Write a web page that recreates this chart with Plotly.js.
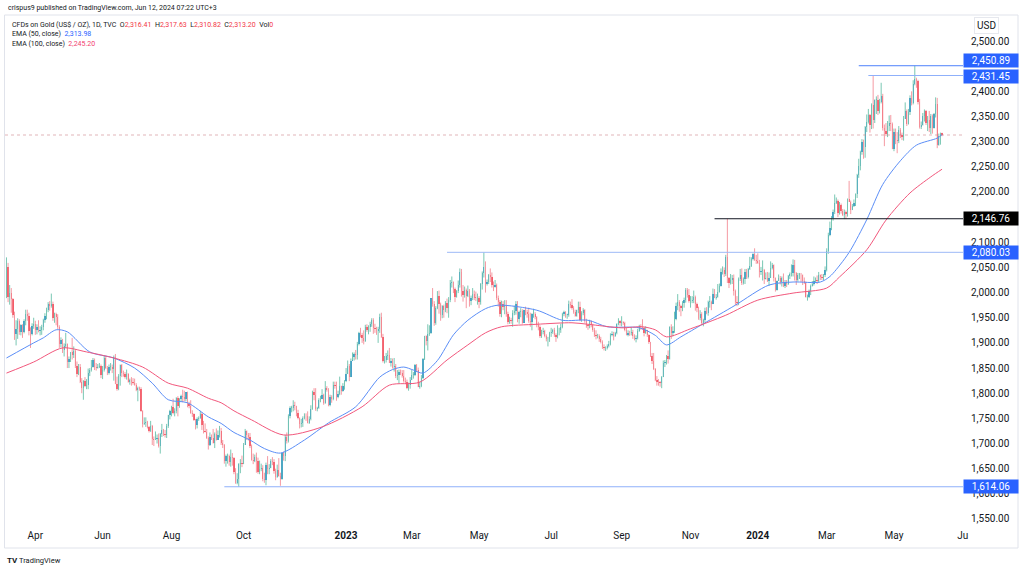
<!DOCTYPE html>
<html><head><meta charset="utf-8">
<script src="https://cdn.plot.ly/plotly-3.0.1.min.js"></script>
<style>html,body{margin:0;padding:0;background:#fff;}#chart{width:1024px;height:570px;}</style>
</head><body><div id="chart"></div>
<script>
// ---------------- DATA (daily candles) ----------------
const dates = [
'2022-03-08','2022-03-09','2022-03-10','2022-03-11','2022-03-14','2022-03-15','2022-03-16','2022-03-17','2022-03-18','2022-03-21','2022-03-22','2022-03-23','2022-03-24','2022-03-25','2022-03-28','2022-03-29','2022-03-30','2022-03-31',
'2022-04-01','2022-04-04','2022-04-05','2022-04-06','2022-04-07','2022-04-08','2022-04-11','2022-04-12','2022-04-13','2022-04-14','2022-04-18','2022-04-19','2022-04-20','2022-04-21','2022-04-22','2022-04-25','2022-04-26','2022-04-27','2022-04-28','2022-04-29',
'2022-05-02','2022-05-03','2022-05-04','2022-05-05','2022-05-06','2022-05-09','2022-05-10','2022-05-11','2022-05-12','2022-05-13','2022-05-16','2022-05-17','2022-05-18','2022-05-19','2022-05-20','2022-05-23','2022-05-24','2022-05-25','2022-05-26','2022-05-27','2022-05-30','2022-05-31',
'2022-06-01','2022-06-02','2022-06-03','2022-06-06','2022-06-07','2022-06-08','2022-06-09','2022-06-10','2022-06-13','2022-06-14','2022-06-15','2022-06-16','2022-06-17','2022-06-20','2022-06-21','2022-06-22','2022-06-23','2022-06-24','2022-06-27','2022-06-28','2022-06-29','2022-06-30',
'2022-07-01','2022-07-04','2022-07-05','2022-07-06','2022-07-07','2022-07-08','2022-07-11','2022-07-12','2022-07-13','2022-07-14','2022-07-15','2022-07-18','2022-07-19','2022-07-20','2022-07-21','2022-07-22','2022-07-25','2022-07-26','2022-07-27','2022-07-28','2022-07-29',
'2022-08-01','2022-08-02','2022-08-03','2022-08-04','2022-08-05','2022-08-08','2022-08-09','2022-08-10','2022-08-11','2022-08-12','2022-08-15','2022-08-16','2022-08-17','2022-08-18','2022-08-19','2022-08-22','2022-08-23','2022-08-24','2022-08-25','2022-08-26','2022-08-29','2022-08-30','2022-08-31',
'2022-09-01','2022-09-02','2022-09-05','2022-09-06','2022-09-07','2022-09-08','2022-09-09','2022-09-12','2022-09-13','2022-09-14','2022-09-15','2022-09-16','2022-09-19','2022-09-20','2022-09-21','2022-09-22','2022-09-23','2022-09-26','2022-09-27','2022-09-28','2022-09-29','2022-09-30',
'2022-10-03','2022-10-04','2022-10-05','2022-10-06','2022-10-07','2022-10-10','2022-10-11','2022-10-12','2022-10-13','2022-10-14','2022-10-17','2022-10-18','2022-10-19','2022-10-20','2022-10-21','2022-10-24','2022-10-25','2022-10-26','2022-10-27','2022-10-28','2022-10-31',
'2022-11-01','2022-11-02','2022-11-03','2022-11-04','2022-11-07','2022-11-08','2022-11-09','2022-11-10','2022-11-11','2022-11-14','2022-11-15','2022-11-16','2022-11-17','2022-11-18','2022-11-21','2022-11-22','2022-11-23','2022-11-24','2022-11-25','2022-11-28','2022-11-29','2022-11-30',
'2022-12-01','2022-12-02','2022-12-05','2022-12-06','2022-12-07','2022-12-08','2022-12-09','2022-12-12','2022-12-13','2022-12-14','2022-12-15','2022-12-16','2022-12-19','2022-12-20','2022-12-21','2022-12-22','2022-12-23','2022-12-27','2022-12-28','2022-12-29','2022-12-30',
'2023-01-03','2023-01-04','2023-01-05','2023-01-06','2023-01-09','2023-01-10','2023-01-11','2023-01-12','2023-01-13','2023-01-16','2023-01-17','2023-01-18','2023-01-19','2023-01-20','2023-01-23','2023-01-24','2023-01-25','2023-01-26','2023-01-27','2023-01-30','2023-01-31',
'2023-02-01','2023-02-02','2023-02-03','2023-02-06','2023-02-07','2023-02-08','2023-02-09','2023-02-10','2023-02-13','2023-02-14','2023-02-15','2023-02-16','2023-02-17','2023-02-20','2023-02-21','2023-02-22','2023-02-23','2023-02-24','2023-02-27','2023-02-28',
'2023-03-01','2023-03-02','2023-03-03','2023-03-06','2023-03-07','2023-03-08','2023-03-09','2023-03-10','2023-03-13','2023-03-14','2023-03-15','2023-03-16','2023-03-17','2023-03-20','2023-03-21','2023-03-22','2023-03-23','2023-03-24','2023-03-27','2023-03-28','2023-03-29','2023-03-30','2023-03-31',
'2023-04-03','2023-04-04','2023-04-05','2023-04-06','2023-04-10','2023-04-11','2023-04-12','2023-04-13','2023-04-14','2023-04-17','2023-04-18','2023-04-19','2023-04-20','2023-04-21','2023-04-24','2023-04-25','2023-04-26','2023-04-27','2023-04-28',
'2023-05-01','2023-05-02','2023-05-03','2023-05-04','2023-05-05','2023-05-08','2023-05-09','2023-05-10','2023-05-11','2023-05-12','2023-05-15','2023-05-16','2023-05-17','2023-05-18','2023-05-19','2023-05-22','2023-05-23','2023-05-24','2023-05-25','2023-05-26','2023-05-29','2023-05-30','2023-05-31',
'2023-06-01','2023-06-02','2023-06-05','2023-06-06','2023-06-07','2023-06-08','2023-06-09','2023-06-12','2023-06-13','2023-06-14','2023-06-15','2023-06-16','2023-06-19','2023-06-20','2023-06-21','2023-06-22','2023-06-23','2023-06-26','2023-06-27','2023-06-28','2023-06-29','2023-06-30',
'2023-07-03','2023-07-04','2023-07-05','2023-07-06','2023-07-07','2023-07-10','2023-07-11','2023-07-12','2023-07-13','2023-07-14','2023-07-17','2023-07-18','2023-07-19','2023-07-20','2023-07-21','2023-07-24','2023-07-25','2023-07-26','2023-07-27','2023-07-28','2023-07-31',
'2023-08-01','2023-08-02','2023-08-03','2023-08-04','2023-08-07','2023-08-08','2023-08-09','2023-08-10','2023-08-11','2023-08-14','2023-08-15','2023-08-16','2023-08-17','2023-08-18','2023-08-21','2023-08-22','2023-08-23','2023-08-24','2023-08-25','2023-08-28','2023-08-29','2023-08-30','2023-08-31',
'2023-09-01','2023-09-04','2023-09-05','2023-09-06','2023-09-07','2023-09-08','2023-09-11','2023-09-12','2023-09-13','2023-09-14','2023-09-15','2023-09-18','2023-09-19','2023-09-20','2023-09-21','2023-09-22','2023-09-25','2023-09-26','2023-09-27','2023-09-28','2023-09-29',
'2023-10-02','2023-10-03','2023-10-04','2023-10-05','2023-10-06','2023-10-09','2023-10-10','2023-10-11','2023-10-12','2023-10-13','2023-10-16','2023-10-17','2023-10-18','2023-10-19','2023-10-20','2023-10-23','2023-10-24','2023-10-25','2023-10-26','2023-10-27','2023-10-30','2023-10-31',
'2023-11-01','2023-11-02','2023-11-03','2023-11-06','2023-11-07','2023-11-08','2023-11-09','2023-11-10','2023-11-13','2023-11-14','2023-11-15','2023-11-16','2023-11-17','2023-11-20','2023-11-21','2023-11-22','2023-11-23','2023-11-24','2023-11-27','2023-11-28','2023-11-29','2023-11-30',
'2023-12-01','2023-12-04','2023-12-05','2023-12-06','2023-12-07','2023-12-08','2023-12-11','2023-12-12','2023-12-13','2023-12-14','2023-12-15','2023-12-18','2023-12-19','2023-12-20','2023-12-21','2023-12-22','2023-12-26','2023-12-27','2023-12-28','2023-12-29',
'2024-01-02','2024-01-03','2024-01-04','2024-01-05','2024-01-08','2024-01-09','2024-01-10','2024-01-11','2024-01-12','2024-01-15','2024-01-16','2024-01-17','2024-01-18','2024-01-19','2024-01-22','2024-01-23','2024-01-24','2024-01-25','2024-01-26','2024-01-29','2024-01-30','2024-01-31',
'2024-02-01','2024-02-02','2024-02-05','2024-02-06','2024-02-07','2024-02-08','2024-02-09','2024-02-12','2024-02-13','2024-02-14','2024-02-15','2024-02-16','2024-02-19','2024-02-20','2024-02-21','2024-02-22','2024-02-23','2024-02-26','2024-02-27','2024-02-28','2024-02-29',
'2024-03-01','2024-03-04','2024-03-05','2024-03-06','2024-03-07','2024-03-08','2024-03-11','2024-03-12','2024-03-13','2024-03-14','2024-03-15','2024-03-18','2024-03-19','2024-03-20','2024-03-21','2024-03-22','2024-03-25','2024-03-26','2024-03-27','2024-03-28',
'2024-04-01','2024-04-02','2024-04-03','2024-04-04','2024-04-05','2024-04-08','2024-04-09','2024-04-10','2024-04-11','2024-04-12','2024-04-15','2024-04-16','2024-04-17','2024-04-18','2024-04-19','2024-04-22','2024-04-23','2024-04-24','2024-04-25','2024-04-26','2024-04-29','2024-04-30',
'2024-05-01','2024-05-02','2024-05-03','2024-05-06','2024-05-07','2024-05-08','2024-05-09','2024-05-10','2024-05-13','2024-05-14','2024-05-15','2024-05-16','2024-05-17','2024-05-20','2024-05-21','2024-05-22','2024-05-23','2024-05-24','2024-05-27','2024-05-28','2024-05-29','2024-05-30','2024-05-31',
'2024-06-03','2024-06-04','2024-06-05','2024-06-06','2024-06-07','2024-06-10','2024-06-11','2024-06-12'
];
const open = [
1998,2050,1992,2000,1988,1955,1917,1928,1943,1921,1935,1921,1943,1958,1954,1923,1918,1933,
1937,1925,1932,1923,1925,1931,1945,1954,1966,1978,1973,1978,1950,1957,1951,1932,1898,1905,1886,1894,
1897,1862,1868,1881,1876,1883,1854,1838,1853,1822,1811,1824,1815,1816,1841,1846,1853,1866,1853,1851,1853,1855,
1837,1847,1870,1851,1841,1852,1853,1848,1871,1819,1808,1834,1857,1840,1838,1832,1838,1822,1827,1823,1820,1817,
1807,1811,1808,1764,1739,1740,1742,1732,1725,1735,1709,1708,1709,1711,1696,1718,1727,1719,1717,1734,1756,
1765,1772,1760,1765,1791,1775,1788,1794,1792,1789,1802,1779,1775,1761,1758,1747,1736,1748,1751,1758,1737,1725,1723,
1711,1697,1712,1710,1702,1718,1708,1716,1725,1702,1697,1665,1675,1676,1664,1673,1671,1644,1622,1629,1660,1661,
1660,1698,1725,1716,1712,1695,1668,1666,1673,1666,1644,1650,1652,1629,1627,1657,1649,1652,1665,1663,1645,
1633,1647,1635,1630,1681,1676,1712,1706,1755,1771,1771,1777,1774,1761,1751,1738,1740,1750,1755,1754,1741,1749,
1768,1803,1797,1769,1771,1786,1789,1797,1781,1810,1807,1777,1793,1788,1817,1814,1792,1798,1814,1804,1815,
1824,1839,1855,1833,1865,1872,1877,1875,1897,1920,1916,1909,1904,1932,1926,1931,1937,1946,1929,1928,1923,
1928,1951,1912,1865,1867,1874,1875,1861,1865,1853,1855,1835,1836,1842,1841,1835,1825,1822,1811,1817,
1827,1836,1836,1856,1847,1813,1814,1831,1868,1913,1904,1918,1920,1989,1978,1940,1970,1993,1978,1956,1973,1965,1980,
1969,1985,2020,2021,2008,1992,2003,2015,2040,2004,1995,2005,1994,2004,1983,1989,1998,1990,1989,
1990,1982,2017,2039,2050,2017,2021,2035,2030,2015,2011,2016,1990,1982,1958,1978,1971,1975,1957,1941,1946,1943,1959,
1963,1978,1948,1961,1963,1940,1965,1961,1957,1943,1942,1958,1958,1951,1936,1932,1913,1921,1923,1913,1907,1908,
1919,1921,1925,1915,1911,1925,1925,1932,1957,1961,1955,1955,1978,1976,1969,1962,1954,1965,1972,1945,1959,
1965,1944,1934,1933,1943,1936,1925,1915,1913,1913,1908,1901,1892,1889,1889,1894,1897,1915,1917,1914,1920,1937,1943,
1940,1940,1939,1926,1916,1920,1919,1922,1913,1908,1910,1924,1934,1931,1930,1920,1925,1916,1901,1874,1865,
1849,1827,1823,1822,1820,1833,1861,1861,1874,1868,1932,1920,1923,1947,1974,1981,1973,1970,1979,1985,2006,1996,
1983,1983,1986,1992,1978,1969,1950,1958,1940,1946,1963,1959,1981,1981,1978,1998,1990,1992,2002,2014,2041,2044,
2036,2071,2029,2019,2025,2029,2004,1981,1979,2027,2035,2019,2027,2040,2031,2046,2053,2067,2077,2065,
2062,2058,2041,2043,2045,2027,2029,2024,2029,2049,2055,2028,2006,2023,2029,2021,2029,2014,2021,2018,2032,2036,
2039,2054,2039,2025,2035,2035,2034,2024,2020,1992,1992,2004,2013,2018,2024,2025,2024,2035,2031,2029,2034,
2044,2083,2115,2128,2148,2160,2179,2182,2158,2175,2162,2155,2160,2157,2186,2181,2165,2172,2179,2195,
2233,2251,2280,2300,2290,2329,2339,2352,2333,2372,2344,2383,2383,2361,2379,2391,2327,2322,2316,2332,2337,2335,
2286,2320,2303,2301,2323,2314,2309,2346,2360,2336,2358,2386,2376,2415,2425,2421,2379,2329,2334,2350,2361,2338,2343,
2327,2350,2327,2355,2375,2294,2311,2316.41
];
const high = [
2070,2059,2015,2009,1989,1962,1945,1949,1947,1937,1937,1947,1966,1966,1960,1931,1939,1950,
1944,1937,1945,1933,1936,1948,1959,1970,1981,1983,1998,1982,1960,1960,1957,1935,1911,1908,1899,1920,
1899,1873,1882,1910,1893,1887,1863,1858,1858,1830,1826,1832,1828,1849,1850,1866,1870,1869,1860,1858,1860,1857,
1854,1874,1874,1854,1857,1860,1857,1875,1878,1833,1838,1857,1858,1845,1842,1847,1840,1829,1832,1830,1829,1820,
1813,1813,1812,1766,1752,1752,1745,1735,1745,1737,1714,1724,1718,1720,1721,1739,1729,1727,1739,1757,1767,
1775,1789,1770,1792,1794,1790,1797,1807,1805,1802,1803,1783,1786,1766,1760,1749,1752,1754,1765,1762,1745,1740,1729,
1714,1722,1718,1729,1722,1730,1726,1735,1731,1707,1699,1678,1680,1678,1688,1681,1673,1651,1641,1661,1669,1676,
1701,1729,1726,1721,1721,1698,1680,1678,1682,1672,1666,1660,1657,1642,1662,1675,1659,1669,1673,1669,1650,
1658,1671,1642,1682,1684,1717,1722,1758,1774,1775,1786,1783,1775,1767,1752,1749,1754,1760,1760,1764,1754,1776,
1805,1810,1810,1773,1790,1795,1808,1799,1824,1814,1810,1797,1796,1823,1823,1823,1805,1833,1815,1820,1826,
1850,1865,1858,1869,1881,1881,1886,1902,1922,1930,1920,1925,1936,1937,1935,1942,1949,1949,1938,1932,1932,
1958,1960,1918,1874,1880,1885,1890,1870,1869,1870,1858,1846,1847,1847,1846,1846,1831,1827,1821,1832,
1846,1842,1858,1858,1851,1823,1836,1870,1914,1915,1937,1935,1989,2009,1983,1973,2003,2004,1980,1975,1976,1983,1988,
1991,2025,2032,2022,2010,2005,2024,2048,2047,2015,2012,2008,2014,2007,1994,2009,2004,2002,1998,
1993,2019,2042,2080.03,2062,2026,2037,2048,2040,2022,2025,2018,1994,1985,1984,1983,1985,1985,1962,1952,1950,1965,1974,
1983,1983,1964,1969,1967,1966,1972,1966,1970,1960,1959,1968,1961,1953,1942,1935,1926,1930,1926,1917,1912,1922,
1930,1928,1930,1919,1935,1930,1938,1960,1964,1963,1958,1984,1982,1987,1973,1966,1966,1982,1982,1963,1969,
1967,1948,1937,1946,1945,1938,1930,1925,1918,1917,1912,1905,1897,1893,1897,1904,1919,1923,1922,1922,1939,1949,1945,
1953,1943,1942,1930,1925,1924,1930,1926,1917,1915,1928,1936,1937,1947,1932,1933,1926,1917,1902,1880,1880,
1850,1834,1828,1824,1834,1865,1866,1876,1885,1933,1937,1933,1962,1980,1997,1985,1976,1983,1990,2009,2009,2007,
1993,1993,2004,1994,1980,1972,1965,1961,1948,1970,1971,1984,1993,1984,2008,2007,1997,2017,2018,2048,2052,2050,
2075,2146.76,2031,2037,2035,2036,2006,1993,2030,2047,2048,2030,2047,2047,2049,2071,2070,2078,2088,2075,
2078,2065,2051,2064,2047,2040,2041,2040,2062,2059,2056,2030,2024,2036,2033,2032,2038,2025,2025,2035,2040,2056,
2066,2065,2041,2039,2039,2039,2036,2030,2022,1996,2006,2016,2023,2032,2030,2034,2041,2036,2037,2037,2052,
2088,2119,2141,2152,2165,2195,2189,2185,2180,2177,2166,2165,2163,2187,2222,2183,2176,2185,2197,2236,
2266,2282,2305,2304,2331,2354,2365,2355,2376,2431.45,2384,2390,2393,2385,2417,2395,2334,2337,2341,2352,2353,2338,
2326,2326,2319,2331,2327,2318,2351,2378,2364,2365,2392,2400,2422,2450.89,2427,2423,2385,2340,2357,2364,2363,2351,2361,
2355,2354,2357,2388,2387,2316,2318,2317.63
];
const low = [
1989,1981,1976,1960,1950,1906,1895,1908,1916,1915,1910,1919,1935,1944,1915,1890,1915,1928,
1916,1917,1921,1915,1916,1925,1940,1947,1961,1964,1970,1944,1940,1935,1927,1890,1891,1880,1873,1890,
1850,1850,1862,1867,1870,1850,1832,1836,1820,1800,1787,1812,1808,1808,1834,1843,1851,1846,1845,1849,1850,1830,
1828,1843,1848,1836,1837,1845,1840,1825,1818,1805,1806,1815,1832,1833,1829,1827,1821,1817,1815,1817,1815,1804,
1784,1805,1763,1732,1737,1733,1730,1722,1723,1697,1695,1707,1700,1692,1680,1713,1715,1712,1711,1731,1748,
1754,1758,1754,1760,1754,1771,1783,1782,1784,1784,1772,1770,1759,1753,1745,1728,1730,1745,1749,1727,1720,1722,1709,
1688,1695,1707,1700,1691,1706,1707,1712,1697,1691,1660,1654,1660,1656,1654,1656,1639,1620,1619,1614.06,1641,1653,
1659,1697,1707,1706,1691,1666,1659,1663,1642,1640,1639,1645,1625,1622,1617,1639,1639,1651,1657,1640,1627,
1632,1634,1616,1628,1666,1665,1700,1702,1750,1762,1764,1766,1754,1748,1730,1732,1733,1748,1745,1740,1739,1746,
1767,1786,1765,1764,1769,1782,1788,1777,1779,1803,1774,1774,1781,1786,1809,1785,1790,1796,1797,1803,1807,
1822,1838,1824,1832,1865,1865,1867,1867,1895,1911,1900,1897,1902,1922,1917,1922,1932,1918,1920,1916,1900,
1920,1910,1861,1859,1861,1866,1860,1853,1849,1843,1830,1826,1819,1836,1831,1821,1818,1808,1805,1809,
1826,1829,1834,1842,1812,1809,1812,1828,1866,1895,1885,1914,1918,1972,1934,1936,1967,1958,1944,1949,1950,1961,1959,
1950,1981,2010,1999,1981,1990,1999,2010,1992,1982,1990,1969,1991,1972,1975,1985,1985,1983,1976,
1969,1976,2006,2030,2000,2014,2017,2021,2010,2003,2010,1985,1972,1952,1951,1965,1957,1952,1937,1938,1938,1932,1955,
1956,1941,1938,1951,1938,1940,1955,1950,1940,1932,1925,1950,1947,1931,1925,1910,1910,1917,1911,1903,1893,1902,
1912,1918,1912,1902,1909,1915,1920,1929,1953,1950,1948,1952,1969,1966,1958,1952,1952,1959,1943,1942,1955,
1940,1930,1926,1929,1931,1922,1912,1907,1909,1902,1899,1888,1885,1884,1887,1891,1895,1913,1905,1912,1917,1935,1934,
1933,1936,1923,1915,1913,1914,1915,1908,1905,1901,1907,1922,1926,1926,1913,1918,1912,1898,1872,1858,1846,
1824,1815,1815,1813,1810,1832,1852,1857,1859,1867,1908,1913,1920,1945,1965,1962,1953,1963,1970,1980,1990,1980,
1970,1979,1979,1964,1961,1946,1945,1936,1933,1941,1957,1954,1970,1965,1977,1989,1986,1990,2000,2012,2036,2031,
2033,2019,2009,2016,2017,1994,1975,1973,1975,2023,2015,2016,2017,2027,2028,2045,2051,2064,2063,2057,
2057,2030,2035,2024,2017,2026,2021,2013,2029,2046,2022,2002,2004,2023,2016,2012,2011,2009,2011,2015,2027,2032,
2032,2024,2015,2022,2027,2021,2015,2017,1990,1984,1989,1995,2012,2014,2019,2017,2020,2025,2025,2025,2031,
2042,2077,2112,2124,2143,2156,2176,2150,2155,2157,2152,2146,2146,2151,2180,2156,2164,2170,2172,2188,
2228,2243,2274,2266,2268,2319,2336,2318,2325,2326,2337,2355,2353,2356,2376,2322,2291,2311,2309,2321,2321,2285,
2281,2295,2277,2297,2307,2303,2302,2345,2331,2334,2353,2372,2374,2412,2407,2374,2326,2325,2332,2340,2333,2321,2319,
2315,2316,2326,2348,2287,2292,2294,2310.82
];
const close = [
2050,1992,2000,1988,1955,1917,1928,1943,1921,1935,1921,1943,1958,1954,1923,1918,1933,1937,
1925,1932,1923,1925,1931,1945,1954,1966,1978,1973,1978,1950,1957,1951,1932,1898,1905,1886,1894,1897,
1862,1868,1881,1876,1883,1854,1838,1853,1822,1811,1824,1815,1816,1841,1846,1853,1866,1853,1851,1853,1855,1837,
1847,1870,1851,1841,1852,1853,1848,1871,1819,1808,1834,1857,1840,1838,1832,1838,1822,1827,1823,1820,1817,1807,
1811,1808,1764,1739,1740,1742,1732,1725,1735,1709,1708,1709,1711,1696,1718,1727,1719,1717,1734,1756,1765,
1772,1760,1765,1791,1775,1788,1794,1792,1789,1802,1779,1775,1761,1758,1747,1736,1748,1751,1758,1737,1725,1723,1711,
1697,1712,1710,1702,1718,1708,1716,1725,1702,1697,1665,1675,1676,1664,1673,1671,1644,1622,1629,1660,1661,1660,
1698,1725,1716,1712,1695,1668,1666,1673,1666,1644,1650,1652,1629,1627,1657,1649,1652,1665,1663,1645,1633,
1647,1635,1630,1681,1676,1712,1706,1755,1771,1771,1777,1774,1761,1751,1738,1740,1750,1755,1754,1741,1749,1768,
1803,1797,1769,1771,1786,1789,1797,1781,1810,1807,1777,1793,1788,1817,1814,1792,1798,1814,1804,1815,1824,
1839,1855,1833,1865,1872,1877,1875,1897,1920,1916,1909,1904,1932,1926,1931,1937,1946,1929,1928,1923,1928,
1951,1912,1865,1867,1874,1875,1861,1865,1853,1855,1835,1836,1842,1841,1835,1825,1822,1811,1817,1827,
1836,1836,1856,1847,1813,1814,1831,1868,1913,1904,1918,1920,1989,1978,1940,1970,1993,1978,1956,1973,1965,1980,1969,
1985,2020,2021,2008,1992,2003,2015,2040,2004,1995,2005,1994,2004,1983,1989,1998,1990,1989,1990,
1982,2017,2039,2050,2017,2021,2035,2030,2015,2011,2016,1990,1982,1958,1978,1971,1975,1957,1941,1946,1943,1959,1963,
1978,1948,1961,1963,1940,1965,1961,1957,1943,1942,1958,1958,1951,1936,1932,1913,1921,1923,1913,1907,1908,1919,
1921,1925,1915,1911,1925,1925,1932,1957,1961,1955,1955,1978,1976,1969,1962,1954,1965,1972,1945,1959,1965,
1944,1934,1933,1943,1936,1925,1915,1913,1913,1908,1901,1892,1889,1889,1894,1897,1915,1917,1914,1920,1937,1943,1940,
1940,1939,1926,1916,1920,1919,1922,1913,1908,1910,1924,1934,1931,1930,1920,1925,1916,1901,1874,1865,1849,
1827,1823,1822,1820,1833,1861,1861,1874,1868,1932,1920,1923,1947,1974,1981,1973,1970,1979,1985,2006,1996,1983,
1983,1986,1992,1978,1969,1950,1958,1940,1946,1963,1959,1981,1981,1978,1998,1990,1992,2002,2014,2041,2044,2036,
2071,2029,2019,2025,2029,2004,1981,1979,2027,2035,2019,2027,2040,2031,2046,2053,2067,2077,2065,2062,
2058,2041,2043,2045,2027,2029,2024,2029,2049,2055,2028,2006,2023,2029,2021,2029,2014,2021,2018,2032,2036,2039,
2054,2039,2025,2035,2035,2034,2024,2020,1992,1992,2004,2013,2018,2024,2025,2024,2035,2031,2029,2034,2044,
2083,2115,2128,2148,2160,2179,2182,2158,2175,2162,2155,2160,2157,2186,2181,2165,2172,2179,2195,2233,
2251,2280,2300,2290,2329,2339,2352,2333,2372,2344,2383,2383,2361,2379,2391,2327,2322,2316,2332,2337,2335,2286,
2320,2303,2301,2323,2314,2309,2346,2360,2336,2358,2386,2376,2415,2425,2421,2379,2329,2334,2350,2361,2338,2343,2327,
2350,2327,2355,2375,2294,2311,2316,2313.2
];

// EMA lines
const ema50Dates = ['2022-03-08','2022-03-31','2022-04-08','2022-04-21','2022-05-02','2022-05-20','2022-06-10','2022-06-29','2022-07-14','2022-07-28','2022-08-15','2022-09-01','2022-09-13','2022-09-23','2022-10-07','2022-10-20','2022-11-03','2022-11-24','2022-12-15','2023-01-11','2023-02-01','2023-02-13','2023-02-22','2023-03-02','2023-03-10','2023-03-23','2023-04-06','2023-04-20','2023-05-05','2023-05-17','2023-06-20','2023-07-12','2023-08-03','2023-08-21','2023-09-18','2023-10-02','2023-10-11','2023-10-24','2023-11-13','2023-12-11','2024-01-11','2024-02-01','2024-02-26','2024-03-05','2024-03-15','2024-03-22','2024-04-08','2024-04-22','2024-05-07','2024-05-21','2024-06-07','2024-06-12'];
const ema50 = [1870,1900,1910,1926,1922,1882,1870,1850,1820,1787,1781,1753,1740,1722,1707,1690,1681,1707,1741,1773,1832,1847,1852,1846,1840,1865,1916,1945,1968,1975,1965,1945,1945,1932,1930,1915,1896,1912,1938,1975,2015,2021,2021,2032,2062,2085,2145,2215,2262,2293,2307,2313.98];
const ema100Dates = ['2022-03-08','2022-03-31','2022-04-27','2022-05-18','2022-06-10','2022-07-06','2022-07-28','2022-08-15','2022-09-01','2022-09-13','2022-09-23','2022-10-10','2022-11-07','2022-12-09','2023-01-17','2023-02-09','2023-03-08','2023-03-31','2023-04-20','2023-05-05','2023-05-19','2023-06-20','2023-07-20','2023-08-03','2023-09-01','2023-09-20','2023-10-02','2023-10-11','2023-11-01','2023-12-01','2024-01-02','2024-02-01','2024-03-01','2024-03-13','2024-04-08','2024-04-24','2024-05-15','2024-06-03','2024-06-12'];
const ema100 = [1840,1862,1890,1882,1870,1852,1820,1810,1790,1781,1765,1747,1717,1733,1773,1816,1822,1866,1896,1920,1932,1937,1940,1937,1930,1932,1926,1912,1928,1955,1985,1999,2009,2031,2085,2144,2198,2230,2245.2];

// Horizontal drawn levels
const levels = [2450.89, 2431.45, 2146.76, 2080.03, 1614.06];
const levelStarts = ['2024-04-01', '2024-04-09', '2023-11-22', '2023-03-31', '2022-09-15'];

// Axis ticks
const tickDates = ['2022-04-01','2022-06-01','2022-08-01','2022-10-03','2023-01-03','2023-03-01','2023-05-01','2023-07-03','2023-09-01','2023-11-01','2024-01-02','2024-03-01','2024-05-01','2024-07-01'];
const tickLabels = ['Apr','Jun','Aug','Oct','2023','Mar','May','Jul','Sep','Nov','2024','Mar','May','Ju'];
const priceTicks = [1550,1600,1650,1700,1750,1800,1850,1900,1950,2000,2050,2100,2150,2200,2250,2300,2350,2400,2500];

// ---------------- BUILD ----------------
const FONT = 'Roboto, "Open Sans", Arial, sans-serif';
const UP_BODY = '#2388d4', UP_WICK = '#79c7b3', DN_BODY = '#f23645', DN_WICK = '#f59aa3';
const mid = d => d + ' 12:00';
const xs = dates.map(mid);
const n = dates.length;
const fmt = v => { const s = Number(v).toFixed(2).split('.'); return s[0].replace(/\B(?=(\d{3})+(?!\d))/g, ',') + '.' + s[1]; };

// non-trading weekdays inside the data span
const have = new Set(dates);
const holidays = [];
for (let t = Date.parse(dates[0] + 'T00:00:00Z'); t <= Date.parse(dates[n - 1] + 'T00:00:00Z'); t += 86400000) {
  const d = new Date(t), wd = d.getUTCDay(), s = d.toISOString().slice(0, 10);
  if (wd !== 0 && wd !== 6 && !have.has(s)) holidays.push(s);
}

function wicks(up) {
  const x = [], y = [];
  for (let i = 0; i < n; i++) {
    if ((close[i] >= open[i]) === up) { x.push(xs[i], xs[i], null); y.push(low[i], high[i], null); }
  }
  return { type: 'scatter', mode: 'lines', x, y, connectgaps: false, hoverinfo: 'skip',
           line: { color: up ? UP_WICK : DN_WICK, width: 1 } };
}
const bodies = {
  type: 'bar', x: xs,
  base: open.map((o, i) => Math.min(o, close[i])),
  y: open.map((o, i) => Math.max(Math.abs(close[i] - o), 1.6)),
  width: 0.78 * 86400000,
  marker: { color: open.map((o, i) => close[i] >= o ? UP_BODY : DN_BODY), line: { width: 0 } },
  hoverinfo: 'skip'
};
const e50 = { type: 'scatter', mode: 'lines', x: ema50Dates.map(mid), y: ema50,
  line: { color: '#5b8ef7', width: 1, shape: 'spline', smoothing: 0.8 }, hoverinfo: 'skip' };
const e100 = { type: 'scatter', mode: 'lines', x: ema100Dates.map(mid), y: ema100,
  line: { color: '#f2577c', width: 1, shape: 'spline', smoothing: 0.8 }, hoverinfo: 'skip' };

const X0 = '2022-03-07 14:00', X1 = '2024-07-01 14:00';
const lastO = open[n - 1], lastH = high[n - 1], lastL = low[n - 1], lastC = close[n - 1];

// pixel -> paper helpers (plot area: x 5..963, y 15..528)
const px = v => (v - 5) / 958, py = v => (528 - v) / 513;

const shapes = [
  { type: 'line', xref: 'x', yref: 'y', x0: X0, x1: X1, y0: lastC, y1: lastC,
    line: { color: 'rgba(200,120,130,0.55)', width: 1, dash: 'dot' } },
  { type: 'rect', xref: 'paper', yref: 'paper', x0: px(4.5), x1: px(1018), y0: py(548), y1: py(15),
    line: { color: '#e0e3eb', width: 1 }, fillcolor: 'rgba(0,0,0,0)', layer: 'below' }
];
const levelLine = ['#4f82fb', '#8fb0fa', '#131722', '#9db9f7', '#8fb0fa'];
const levelBox = ['#2962ff', '#2962ff', '#000000', '#2962ff', '#2962ff'];
const levelShift = [5, -1, 0, 0, 0];
const annotations = [];
levels.forEach((v, i) => {
  shapes.push({ type: 'line', xref: 'x', yref: 'y', x0: mid(levelStarts[i]), x1: X1, y0: v, y1: v,
    line: { color: levelLine[i], width: 1 } });
  annotations.push({ xref: 'paper', yref: 'y', x: 1, y: v, xanchor: 'left', yanchor: 'middle',
    text: fmt(v), showarrow: false, bgcolor: levelBox[i], width: 52, height: 11, borderpad: 1, align: 'center',
    valign: 'middle', yshift: levelShift[i], font: { family: FONT, size: 10, color: '#ffffff' } });
});

const red = s => '<span style="color:#f23645">' + s + '</span>';
annotations.push(
  { xref: 'paper', yref: 'paper', x: px(6), y: py(8), xanchor: 'left', yanchor: 'middle', showarrow: false,
    text: 'crispus9 published on TradingView.com, Jun 12, 2024 07:22 UTC+3',
    font: { family: FONT, size: 7, color: '#131722' } },
  { xref: 'paper', yref: 'paper', x: px(10), y: py(25), xanchor: 'left', yanchor: 'middle', showarrow: false,
    text: 'CFDs on Gold (US$ / OZ), 1D, TVC  O' + red(fmt(lastO)) + '  H' + red(fmt(lastH)) + '  L' + red(fmt(lastL)) + '  C' + red(fmt(lastC)) + '  Vol' + red('0'),
    font: { family: FONT, size: 7, color: '#131722' } },
  { xref: 'paper', yref: 'paper', x: px(10), y: py(34.5), xanchor: 'left', yanchor: 'middle', showarrow: false,
    text: 'EMA (50, close)  <span style="color:#2962ff">' + fmt(ema50[ema50.length - 1]) + '</span>',
    font: { family: FONT, size: 7, color: '#131722' } },
  { xref: 'paper', yref: 'paper', x: px(10), y: py(44), xanchor: 'left', yanchor: 'middle', showarrow: false,
    text: 'EMA (100, close)  <span style="color:#f23d6e">' + fmt(ema100[ema100.length - 1]) + '</span>',
    font: { family: FONT, size: 7, color: '#131722' } },
  { xref: 'paper', yref: 'paper', x: px(986), y: py(25), xanchor: 'center', yanchor: 'middle', showarrow: false,
    text: 'USD', font: { family: FONT, size: 10, color: '#131722' }, bordercolor: '#e6e8ee', borderwidth: 1, borderpad: 2 },
  { xref: 'paper', yref: 'paper', x: px(5), y: py(560), xanchor: 'left', yanchor: 'middle', showarrow: false,
    text: '<b>TV</b>', font: { family: FONT, size: 8, color: '#131722' } },
  { xref: 'paper', yref: 'paper', x: px(17), y: py(560), xanchor: 'left', yanchor: 'middle', showarrow: false,
    text: 'TradingView', font: { family: FONT, size: 7.5, color: '#131722' } }
);

const layout = {
  width: 1024, height: 570,
  margin: { l: 5, r: 61, t: 15, b: 42, pad: 0 },
  paper_bgcolor: '#ffffff', plot_bgcolor: '#ffffff',
  showlegend: false, hovermode: false, bargap: 0,
  font: { family: FONT, color: '#131722' },
  xaxis: {
    type: 'date', range: [X0, X1],
    rangebreaks: [{ bounds: ['sat', 'mon'] }, { values: holidays }],
    tickmode: 'array', tickvals: tickDates.map(mid),
    ticktext: tickLabels.map(t => /^\d{4}$/.test(t) ? '<b>' + t + '</b>' : t),
    showgrid: false, zeroline: false, showline: false, ticks: '',
    tickfont: { family: FONT, size: 10, color: '#131722' }, fixedrange: true
  },
  yaxis: {
    side: 'right', range: [1532.1, 2551.7], tickmode: 'array', tickvals: priceTicks, tickformat: ',.2f',
    showgrid: false, zeroline: false, showline: false, ticks: '', ticklabelstandoff: 7,
    tickfont: { family: FONT, size: 10, color: '#131722' }, fixedrange: true
  },
  shapes, annotations
};

Plotly.newPlot('chart', [wicks(true), wicks(false), bodies, e50, e100], layout, { displayModeBar: false, staticPlot: true });
</script></body></html>
